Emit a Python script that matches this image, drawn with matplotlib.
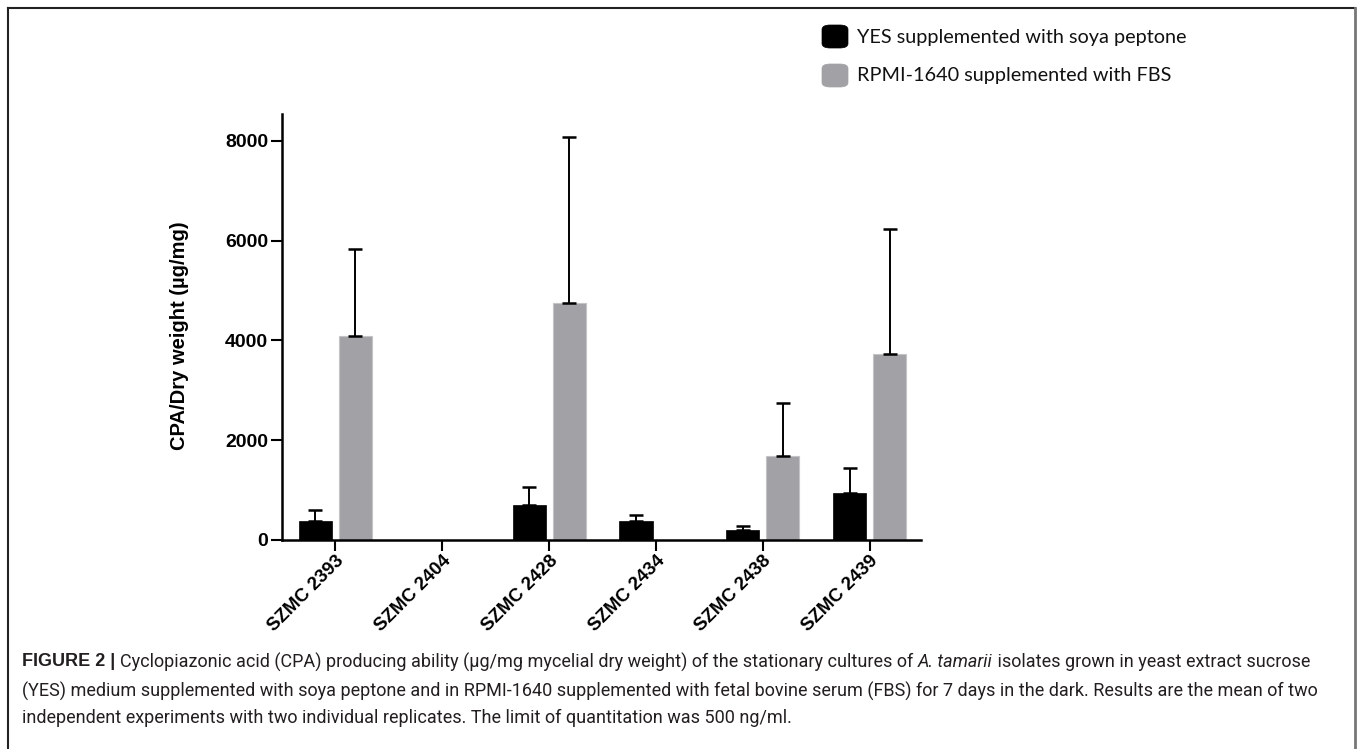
import numpy as np
import matplotlib
matplotlib.use("Agg")
from matplotlib import pyplot as plt
from matplotlib.patches import FancyBboxPatch
from matplotlib.lines import Line2D

# values (ug/mg), upper error only
strains = ["SZMC 2393", "SZMC 2404", "SZMC 2428", "SZMC 2434", "SZMC 2438", "SZMC 2439"]
yes_mean = [373, 0, 707, 387, 193, 933]
yes_err = [220, 0, 360, 120, 87, 520]
rpmi_mean = [4080, 0, 4760, 0, 1690, 3720]
rpmi_err = [1745, 0, 3320, 0, 1063, 2513]
yticks = [0, 2000, 4000, 6000, 8000]

yes_label = "YES supplemented with soya peptone"
rpmi_label = "RPMI-1640 supplemented with FBS"
ylabel = "CPA/Dry weight (\u00b5g/mg)"

black = "#000000"
grey = "#a2a1a5"
W, H = 1360, 749

bold_font = ["Liberation Sans", "DejaVu Sans"]
plt.rcParams["font.family"] = ["Lato", "DejaVu Sans"]
fig = plt.figure(figsize=(W / 100, H / 100), dpi=100)
ax = fig.add_axes([282 / W, 1 - 540 / H, (921 - 282) / W, (540 - 114) / H])

x = np.arange(len(strains))
w = 0.31
off = 0.187
ax.bar(x - off, yes_mean, w, color=black, edgecolor=black, linewidth=0.5, zorder=2)
ax.bar(x + off, rpmi_mean, w, color=grey, edgecolor="#c4c4c6", linewidth=0.8, zorder=2)

for xs, m, e in [(x - off, yes_mean, yes_err), (x + off, rpmi_mean, rpmi_err)]:
    m = np.array(m)
    e = np.array(e)
    k = m > 0
    ax.errorbar(xs[k], m[k], yerr=[np.zeros(k.sum()), e[k]], fmt="none",
                ecolor="black", elinewidth=1.4, capsize=5, capthick=1.8, zorder=3)

ax.set_xlim(-0.5, 5.48)
ax.set_ylim(0, 8540)
ax.set_yticks(yticks)
ax.set_yticklabels([str(v) for v in yticks], fontsize=14, fontweight="bold", family=bold_font)
ax.set_xticks(x)
ax.set_xticklabels(strains, rotation=45, ha="right", va="top", rotation_mode="anchor",
                   fontsize=13.5, fontweight="bold", family=bold_font)
ax.tick_params(axis="both", length=8, width=1.5, color="black")
ax.tick_params(axis="x", pad=1)
ax.tick_params(axis="y", pad=2)
for s in ["top", "right"]:
    ax.spines[s].set_visible(False)
for s in ["left", "bottom"]:
    ax.spines[s].set_linewidth(1.8)
ax.set_ylabel(ylabel, fontsize=14.5, fontweight="bold", family=bold_font)
ax.yaxis.set_label_coords(-0.145, 0.48)

# legend drawn by hand (rounded squares)
for (y0, col, lab) in [(25, black, yes_label), (64, grey, rpmi_label)]:
    fig.patches.append(FancyBboxPatch((822 / W, 1 - (y0 + 23) / H), 26 / W, 23 / H,
                                      boxstyle="round,pad=0,rounding_size=0.006",
                                      transform=fig.transFigure, facecolor=col,
                                      edgecolor=col, linewidth=0.5))
    fig.text(857 / W, 1 - (y0 + 12) / H, lab, fontsize=14.3, ha="left", va="center",
             color="#111111")

# frame around the figure
fig.add_artist(Line2D([8 / W, 1355 / W], [1 - 8 / H, 1 - 8 / H], transform=fig.transFigure,
                      color="#222222", linewidth=1.5))
fig.add_artist(Line2D([8 / W, 8 / W], [1 - 8 / H, 0], transform=fig.transFigure,
                      color="#222222", linewidth=1.5))
fig.add_artist(Line2D([1355 / W, 1355 / W], [1 - 8 / H, 0], transform=fig.transFigure,
                      color="#777777", linewidth=2))

# caption with mixed styles
cap_font = ["Roboto", "DejaVu Sans"]
cap_bold_font = ["Liberation Sans", "DejaVu Sans"]
cap_col = "#231f20"
renderer = fig.canvas.get_renderer()

line1 = [("FIGURE 2 | ", "bold", "normal"),
         ("Cyclopiazonic acid (CPA) producing ability (\u00b5g/mg mycelial dry weight) of the stationary cultures of ", "normal", "normal"),
         ("A. tamarii", "normal", "italic"),
         (" isolates grown in yeast extract sucrose", "normal", "normal")]
line2 = [("(YES) medium supplemented with soya peptone and in RPMI-1640 supplemented with fetal bovine serum (FBS) for 7 days in the dark. Results are the mean of two", "normal", "normal")]
line3 = [("independent experiments with two individual replicates. The limit of quantitation was 500 ng/ml.", "normal", "normal")]

# pick a size so the second line spans about the same width as in the figure
probe = fig.text(0, 0, line2[0][0], fontsize=12, family=cap_font)
pw = probe.get_window_extent(renderer=renderer).width
probe.remove()
cap_size = min(12 * 1320 / pw, 13)


def put_line(pieces, y):
    px = 22
    for txt, weight, style in pieces:
        fam = cap_bold_font if weight == "bold" else cap_font
        t = fig.text(px / W, 1 - y / H, txt, fontsize=cap_size, family=fam,
                     fontweight=weight, fontstyle=style, color=cap_col, va="center", ha="left")
        px += t.get_window_extent(renderer=renderer).width


put_line(line1, 662)
put_line(line2, 691)
put_line(line3, 718)

fig.savefig("out.png", dpi=100)
